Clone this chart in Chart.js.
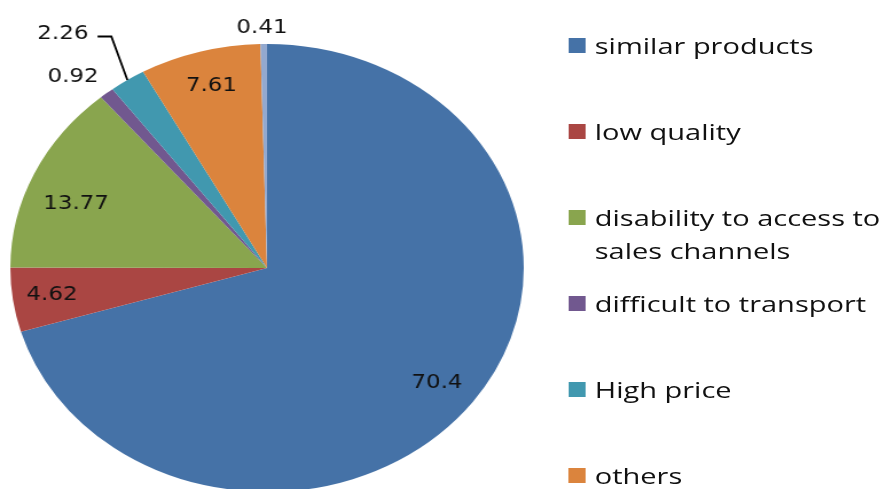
<!DOCTYPE html>
<html lang="en">
<head>
<meta charset="UTF-8">
<title>Pie</title>
<script src="https://cdn.jsdelivr.net/npm/chart.js"></script>
<style>
  html, body { margin: 0; padding: 0; background: #fff; overflow: hidden; width: 885px; height: 489px; }
  /* the original picture is stretched sideways, so draw narrow and stretch */
  #wrap { position: absolute; left: 0; top: 0; width: 772px; height: 520px; transform: scaleX(1.146); transform-origin: 0 0; }
  #legend { position: absolute; left: 496px; top: 0; font-family: "Open Sans", sans-serif; font-size: 22px; font-weight: 500; color: #111; }
  .item { position: absolute; left: 0; white-space: nowrap; line-height: 33px; }
  .box { position: absolute; left: 0; top: 8px; width: 15px; height: 15px; }
  .txt { position: absolute; left: 23px; top: -1px; transform: scaleX(1.15); transform-origin: 0 0; }
</style>
</head>
<body>
<div id="wrap">
  <canvas id="chart" width="772" height="520"></canvas>
  <div id="legend"></div>
</div>
<script>
  // data
  const categories = ['similar products', 'low quality', ['disability to access to', 'sales channels'],
    'difficult to transport', 'High price', 'others', ''];
  const values = [70.4, 4.62, 13.77, 0.92, 2.26, 7.61, 0.41];

  const colors = ['#4572A7', '#AA4643', '#89A54E', '#71588F', '#4198AF', '#DB843D', '#93A9CF'];

  // where each value label sits: fraction of radius and angle nudge (deg)
  const placement = [
    { r: 0.83, da: 0.4 },
    { r: 0.845, da: 0.6 },
    { r: 0.80, da: -3.3 },
    { r: 1.148, da: -2.5 },
    { r: 1.32, da: -4.1, leader: true },
    { r: 0.85, da: 0.4 },
    { r: 1.083, da: -0.3 }
  ];

  const valueLabels = {
    id: 'valueLabels',
    afterDatasetsDraw(chart, args, opts) {
      const ctx = chart.ctx;
      const meta = chart.getDatasetMeta(0);
      ctx.save();
      ctx.font = opts.font;
      ctx.fillStyle = opts.color;
      ctx.textAlign = 'center';
      ctx.textBaseline = 'alphabetic';
      meta.data.forEach((arc, i) => {
        const p = opts.placement[i];
        const { x, y, startAngle, endAngle, outerRadius } =
          arc.getProps(['x', 'y', 'startAngle', 'endAngle', 'outerRadius'], true);
        const mid = (startAngle + endAngle) / 2;
        const a = mid + p.da * Math.PI / 180;
        const lx = x + Math.cos(a) * outerRadius * p.r;
        const ly = y + Math.sin(a) * outerRadius * p.r;
        const text = String(chart.data.datasets[0].data[i]);
        ctx.fillText(text, lx, ly + 7.3);
        if (p.leader) {
          const w = ctx.measureText(text).width;
          const x0 = lx + w / 2 + 8;
          const yl = ly + 4.5;
          ctx.beginPath();
          ctx.moveTo(x0, yl);
          ctx.lineTo(x0 + 12, yl);
          ctx.lineTo(x + Math.cos(mid) * outerRadius, y + Math.sin(mid) * outerRadius);
          ctx.strokeStyle = '#000';
          ctx.lineWidth = 1.8;
          ctx.stroke();
        }
      });
      ctx.restore();
    }
  };

  const chart = new Chart(document.getElementById('chart').getContext('2d'), {
    type: 'pie',
    data: {
      labels: categories,
      datasets: [{
        data: values,
        backgroundColor: colors,
        borderWidth: 0
      }]
    },
    options: {
      responsive: false,
      animation: false,
      layout: { padding: { left: 9, top: 44, right: 315, bottom: 28 } },
      plugins: {
        legend: { display: false },
        tooltip: { enabled: false },
        valueLabels: {
          font: '20px "DejaVu Sans", sans-serif',
          color: '#111',
          placement: placement
        }
      }
    },
    plugins: [valueLabels]
  });

  // legend on the right, one entry every 86px
  const legend = document.getElementById('legend');
  chart.data.labels.forEach((lab, i) => {
    if (!lab || lab.length === 0) return;
    const item = document.createElement('div');
    item.className = 'item';
    item.style.top = (55 + 86 * i - 25) + 'px';
    const box = document.createElement('div');
    box.className = 'box';
    box.style.background = chart.data.datasets[0].backgroundColor[i];
    const txt = document.createElement('div');
    txt.className = 'txt';
    txt.innerHTML = Array.isArray(lab) ? lab.join('<br>') : lab;
    item.appendChild(box);
    item.appendChild(txt);
    legend.appendChild(item);
  });
</script>
</body>
</html>
